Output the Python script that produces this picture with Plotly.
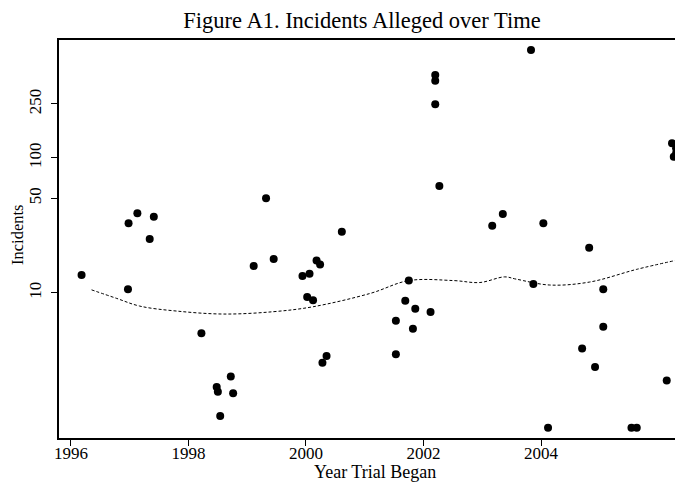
import plotly.graph_objects as go

# Scatter data: year trial began vs incidents alleged
years = [1996.18, 1996.97, 1996.98, 1997.13, 1997.41, 1997.34,
         1998.22, 1998.48, 1998.50, 1998.72, 1998.76, 1998.54,
         1999.11, 1999.32, 1999.45, 1999.94, 2000.06, 2000.18, 2000.24,
         2000.02, 2000.12, 2000.61, 2000.35, 2000.28,
         2003.83, 2002.20, 2002.20, 2002.20, 2002.27, 2003.35, 2003.17,
         2004.04, 2004.82, 2006.23, 2006.30, 2006.30, 2006.26,
         2001.75, 2001.69, 2001.86, 2002.12, 2001.53, 2001.82, 2001.53,
         2003.87, 2005.06, 2005.06, 2004.70, 2004.92, 2006.14,
         2004.12, 2005.54, 2005.63]
incidents = [13.5, 10.6, 32.7, 38.7, 36.5, 25,
             5.0, 2.0, 1.85, 2.39, 1.80, 1.22,
             15.8, 50, 17.8, 13.3, 13.8, 17.3, 16.2,
             9.3, 8.8, 28.3, 3.4, 3.03,
             628, 410, 372, 249, 61.8, 38.3, 31.3,
             32.7, 21.5, 128, 117.5, 108, 101.6,
             12.3, 8.7, 7.6, 7.2, 6.2, 5.4, 3.5,
             11.6, 10.6, 5.6, 3.86, 2.82, 2.24,
             1.0, 1.0, 1.0]

# Smoothed trend line
smooth_years = [1996.35, 1996.77, 1997.17, 1997.80, 1998.60, 1999.44, 2000.12,
                2001.10, 2001.75, 2002.51, 2002.96, 2003.38, 2003.58,
                2004.15, 2004.83, 2005.63, 2006.28]
smooth_vals = [10.5, 9.1, 7.96, 7.31, 6.95, 7.23, 7.87,
               9.9, 12.3, 12.3, 11.9, 13.1, 12.6,
               11.4, 12.0, 14.9, 17.3]

x_tick_vals = [1996, 1998, 2000, 2002, 2004]
y_tick_vals = [10, 50, 100, 250]

SERIF = "Liberation Serif, Times New Roman, serif"

# The page body adds an 8px offset, so the figure is sized to fill the window.
OFF = 8
W, H = 683 - OFF, 483 - OFF
L, R, T, B = 59 - OFF, 0, 40 - OFF, H - (438 - OFF)
plot_w = W - L - R
plot_h = H - T - B

fig = go.Figure()
fig.add_trace(go.Scatter(
    x=smooth_years, y=smooth_vals, mode="lines",
    line=dict(color="black", width=1, dash="3px,2px", shape="spline"),
    hoverinfo="skip", showlegend=False))
fig.add_trace(go.Scatter(
    x=years, y=incidents, mode="markers",
    marker=dict(color="black", size=8, line=dict(width=0)),
    cliponaxis=False, showlegend=False))

fig.update_layout(
    width=W, height=H,
    paper_bgcolor="white", plot_bgcolor="white",
    margin=dict(l=L, r=R, t=T, b=B, autoexpand=False),
    font=dict(family=SERIF, color="black"),
    title=dict(text="Figure A1. Incidents Alleged over Time",
               font=dict(family=SERIF, size=22.5, color="black"),
               x=(362 - OFF) / W, xanchor="center", xref="container",
               y=1 - 12.5 / H, yanchor="middle", yref="container"),
    xaxis=dict(range=[1995.796, 2006.417], tickvals=x_tick_vals,
               ticktext=[str(v) for v in x_tick_vals],
               ticks="outside", ticklen=6, tickwidth=1, tickcolor="black",
               ticklabelstandoff=-7,
               showline=True, linecolor="black", linewidth=1.5, mirror=True,
               showgrid=False, zeroline=False, automargin=False,
               tickfont=dict(family=SERIF, size=17, color="black")),
    yaxis=dict(type="log", range=[-0.0763, 2.872], tickvals=y_tick_vals,
               ticktext=[str(v) for v in y_tick_vals],
               ticks="outside", ticklen=6, tickwidth=1, tickcolor="black",
               tickangle=-90, ticklabelstandoff=3,
               showline=True, linecolor="black", linewidth=1.5, mirror=False,
               showgrid=False, zeroline=False, automargin=False,
               tickfont=dict(family=SERIF, size=17, color="black")),
    annotations=[
        dict(text="Year Trial Began",
             x=(375 - 59) / plot_w, xref="paper",
             y=-(471.5 - 438) / plot_h, yref="paper",
             xanchor="center", yanchor="middle",
             showarrow=False, font=dict(family=SERIF, size=18, color="black")),
        dict(text="Incidents",
             x=(18 - 59) / plot_w, xref="paper",
             y=(438 - 235) / plot_h, yref="paper",
             xanchor="center", yanchor="middle",
             textangle=-90, showarrow=False,
             font=dict(family=SERIF, size=16.5, color="black")),
    ],
)

fig.write_html("out.html")
